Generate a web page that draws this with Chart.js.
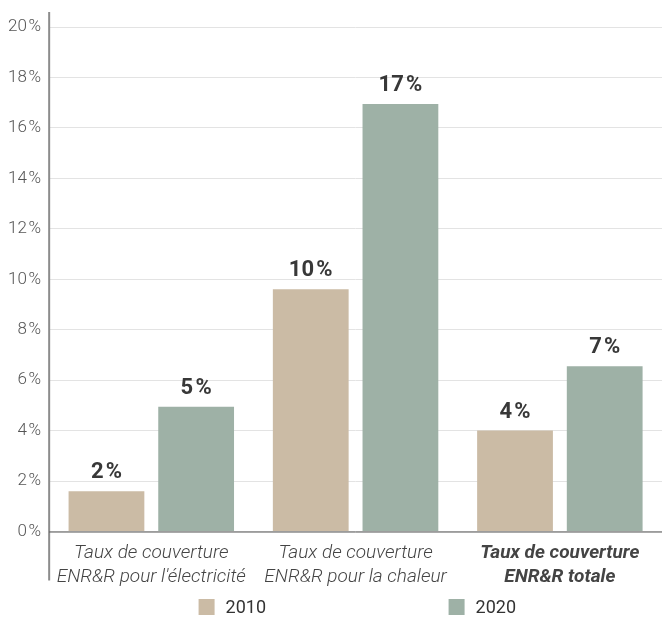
<!DOCTYPE html>
<html>
<head>
<meta charset="utf-8">
<script src="https://cdn.jsdelivr.net/npm/chart.js@4"></script>
<style>
  html, body { margin: 0; padding: 0; background: #fff; }
  #wrap { width: 662px; height: 619px; position: relative; }
</style>
</head>
<body>
<div id="wrap"><canvas id="coverageChart"></canvas></div>
<script>
// data
const categories = [
  ["Taux de couverture", "ENR&R pour l'électricité"],
  ["Taux de couverture", "ENR&R pour la chaleur"],
  ["Taux de couverture", "ENR&R totale"],
];
const values2010 = [1.6, 9.6, 4.0];
const values2020 = [4.95, 16.95, 6.55];
const labels2010 = ["2\u200A%", "10\u200A%", "4\u200A%"];
const labels2020 = ["5\u200A%", "17\u200A%", "7\u200A%"];
const yTicks = [0, 2, 4, 6, 8, 10, 12, 14, 16, 18, 20];

// value labels above each bar
const barLabels = {
  id: "barLabels",
  afterDatasetsDraw(chart) {
    const ctx = chart.ctx;
    const texts = [labels2010, labels2020];
    ctx.save();
    ctx.font = "bold 22px Roboto";
    ctx.fillStyle = "#383838";
    ctx.textAlign = "center";
    ctx.textBaseline = "alphabetic";
    chart.data.datasets.forEach((ds, i) => {
      chart.getDatasetMeta(i).data.forEach((bar, j) => {
        ctx.fillText(texts[i][j], bar.x, bar.y - 13);
      });
    });
    ctx.restore();
  },
};

// long vertical axis line + x axis line + legend at the bottom
const axisAndLegend = {
  id: "axisAndLegend",
  afterDraw(chart) {
    const ctx = chart.ctx;
    const area = chart.chartArea;
    const x = area.left;
    ctx.save();
    ctx.strokeStyle = "#8c8c8c";
    ctx.lineWidth = 2;
    ctx.beginPath();
    ctx.moveTo(x, area.top - 15);
    ctx.lineTo(x, area.bottom + 49);
    ctx.stroke();
    ctx.beginPath();
    ctx.strokeStyle = "#555555";
    ctx.lineWidth = 1;
    ctx.moveTo(x, area.bottom + 0.5);
    ctx.lineTo(area.right, area.bottom + 0.5);
    ctx.stroke();

    // legend
    const mid = (area.left + area.right) / 2;
    const y = chart.height - 12;
    ctx.font = "18px Roboto";
    ctx.textAlign = "left";
    ctx.textBaseline = "middle";
    chart.data.datasets.forEach((ds, i) => {
      const bx = mid - 157 + i * 250;
      ctx.fillStyle = ds.backgroundColor;
      ctx.fillRect(bx, y - 8, 16, 16);
      ctx.fillStyle = "#333333";
      ctx.fillText(ds.label, bx + 27, y + 1);
    });
    ctx.restore();
  },
};

new Chart(document.getElementById("coverageChart"), {
  type: "bar",
  data: {
    labels: categories,
    datasets: [
      {
        label: "2010",
        data: values2010,
        backgroundColor: "#cbbba5",
        barPercentage: 0.845,
        categoryPercentage: 0.878,
      },
      {
        label: "2020",
        data: values2020,
        backgroundColor: "#9eb1a6",
        barPercentage: 0.845,
        categoryPercentage: 0.878,
      },
    ],
  },
  options: {
    responsive: true,
    maintainAspectRatio: false,
    animation: false,
    layout: { padding: { top: 27, right: 0, left: 0, bottom: 28 } },
    plugins: {
      legend: { display: false },
      tooltip: { enabled: false },
    },
    scales: {
      y: {
        min: 0,
        max: 20,
        afterBuildTicks(scale) {
          scale.ticks = yTicks.map((v) => ({ value: v }));
        },
        border: { display: false },
        grid: { color: "#e3e3e3", drawTicks: false },
        ticks: {
          padding: 8,
          color: "#555555",
          font: { family: "Roboto", size: 17, weight: 300 },
          callback: (v) => v + "\u200A%",
        },
      },
      x: {
        border: { display: false },
        grid: { display: false },
        ticks: {
          padding: 2,
          color: "#444444",
          maxRotation: 0,
          font: (c) => ({
            family: "Roboto",
            size: 19,
            style: "italic",
            weight: c.index === 2 ? "bold" : 300,
            lineHeight: 1.25,
          }),
        },
      },
    },
  },
  plugins: [barLabels, axisAndLegend],
});
</script>
</body>
</html>
